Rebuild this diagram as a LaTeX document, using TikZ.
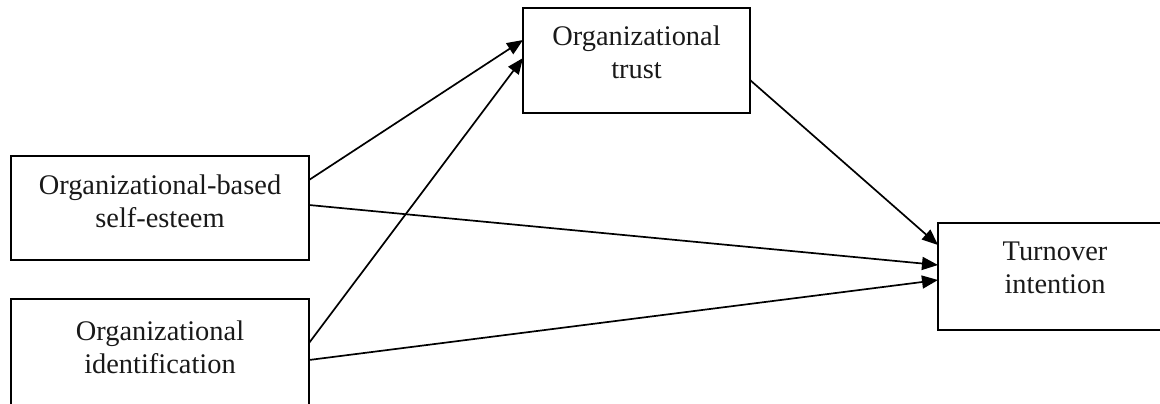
\documentclass[tikz,border=0pt]{standalone}
\usepackage{fontspec}
\setmainfont{Liberation Serif}
\usetikzlibrary{arrows.meta}
\begin{document}
\begin{tikzpicture}[x=1pt,y=1pt,
  box/.style={draw=black, line width=1.6pt, inner sep=0pt, outer sep=0pt},
  lbl/.style={anchor=north, align=center, inner sep=0pt, text=black!90, font=\fontsize{28.4}{33}\selectfont},
  arr/.style={line width=1.7pt, -{Triangle[length=16pt,width=13pt]}}]
\useasboundingbox (0,0) rectangle (1160,-404);
% boxes
\node[box, minimum width=298pt, minimum height=104pt, anchor=north west] (obse) at (11,-156) {};
\node[box, minimum width=298pt, minimum height=106pt, anchor=north west] (ident) at (11,-299) {};
\node[box, minimum width=227pt, minimum height=105pt, anchor=north west] (trust) at (523,-8) {};
\node[box, minimum width=234pt, minimum height=107pt, anchor=north west] (turn) at (938,-223) {};
% labels
\node[lbl] (obseT) at (160,-175) {Organizational-based\\self-esteem};
\node[lbl] (identT) at (160,-320.5) {Organizational\\identification};
\node[lbl] (trustT) at (636.5,-25.5) {Organizational\\trust};
\node[lbl] (turnT) at (1055,-242) {Turnover\\intention};
% connectors
\draw[arr] ([yshift=-24pt]obse.north east) -- ([yshift=-32pt]trust.north west);
\draw[arr] ([yshift=-44pt]ident.north east) -- ([yshift=-50pt]trust.north west);
\draw[arr] ([yshift=-49pt]obse.north east) -- ([yshift=-42pt]turn.north west);
\draw[arr] ([yshift=-61pt]ident.north east) -- ([yshift=-57pt]turn.north west);
\draw[arr] ([yshift=-72pt]trust.north east) -- ([yshift=-22pt]turn.north west);
\end{tikzpicture}
\end{document}
